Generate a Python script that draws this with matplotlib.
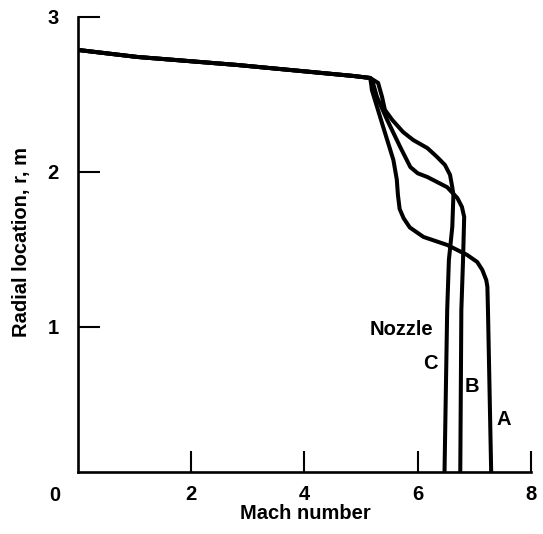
import matplotlib
matplotlib.use('Agg')
import matplotlib.pyplot as plt

plt.rcParams['font.family'] = ['Liberation Sans', 'DejaVu Sans']
plt.rcParams['font.weight'] = 'bold'

# Shared upstream profile (all nozzles coincide here)
mach_top = [0.0, 1.04, 2.81, 4.86, 5.16]
r_top = [2.787, 2.742, 2.69, 2.619, 2.606]

# Nozzle A
mach_a = [5.18, 5.19, 5.39, 5.57, 5.63, 5.65, 5.68, 5.75, 5.86, 6.10, 6.52,
          6.87, 7.05, 7.14, 7.21, 7.23, 7.24, 7.30]
r_a = [2.56, 2.528, 2.289, 2.076, 1.95, 1.85, 1.76, 1.70, 1.64, 1.579, 1.527,
       1.463, 1.417, 1.366, 1.30, 1.256, 1.107, 0.0]

# Nozzle B
mach_b = [5.22, 5.28, 5.46, 5.69, 5.87, 6.00, 6.17, 6.52, 6.70, 6.78, 6.82,
          6.80, 6.77, 6.75]
r_b = [2.56, 2.483, 2.335, 2.16, 2.03, 1.99, 1.966, 1.90, 1.83, 1.773, 1.708,
       1.43, 1.107, 0.0]

# Nozzle C
mach_c = [5.30, 5.37, 5.42, 5.55, 5.74, 5.92, 6.17, 6.34, 6.48, 6.57, 6.61,
          6.63, 6.61, 6.55, 6.52, 6.47]
r_c = [2.574, 2.483, 2.40, 2.335, 2.257, 2.205, 2.153, 2.096, 2.044, 1.98,
       1.90, 1.85, 1.643, 1.43, 1.107, 0.0]

fig = plt.figure(figsize=(5.43, 5.34), dpi=100)
ax = fig.add_axes([0.1436, 0.1161, 0.8343, 0.8521])

lw = 2.9
for m, r in [(mach_a, r_a), (mach_b, r_b), (mach_c, r_c)]:
    ax.plot(mach_top + m, r_top + r, color='black', lw=lw,
            solid_joinstyle='round', solid_capstyle='round')

ax.set_xlim(0, 8)
ax.set_ylim(0.06, 3.0)

ax.spines['top'].set_visible(False)
ax.spines['right'].set_visible(False)
ax.spines['left'].set_linewidth(1.9)
ax.spines['bottom'].set_linewidth(1.9)

fs = 14.5
ax.set_xticks([2, 4, 6, 8])
ax.set_yticks([1, 2, 3])
ax.tick_params(axis='x', direction='in', length=15, width=1.5, pad=9, labelsize=fs)
ax.tick_params(axis='y', direction='in', length=16, width=1.5, pad=14, labelsize=fs)

# Origin label sits at the corner, left of the axis
ax.text(-0.41, -0.094, '0', ha='center', va='center', fontsize=fs,
        fontweight='bold', clip_on=False)

ax.set_xlabel('Mach number', fontsize=fs, fontweight='bold')
ax.xaxis.set_label_coords(0.503, -0.092)
ax.xaxis.label.set_va('center')

ax.set_ylabel('Radial location, r, m', fontsize=fs, fontweight='bold')
ax.yaxis.set_label_coords(-0.124, 0.505)
ax.yaxis.label.set_va('center')

ax.text(5.71, 0.978, 'Nozzle', ha='center', va='center', fontsize=fs, fontweight='bold')
ax.text(6.22, 0.758, 'C', ha='center', va='center', fontsize=fs, fontweight='bold')
ax.text(6.96, 0.61, 'B', ha='center', va='center', fontsize=fs, fontweight='bold')
ax.text(7.51, 0.397, 'A', ha='center', va='center', fontsize=fs, fontweight='bold')

fig.savefig('out.png', dpi=100)
